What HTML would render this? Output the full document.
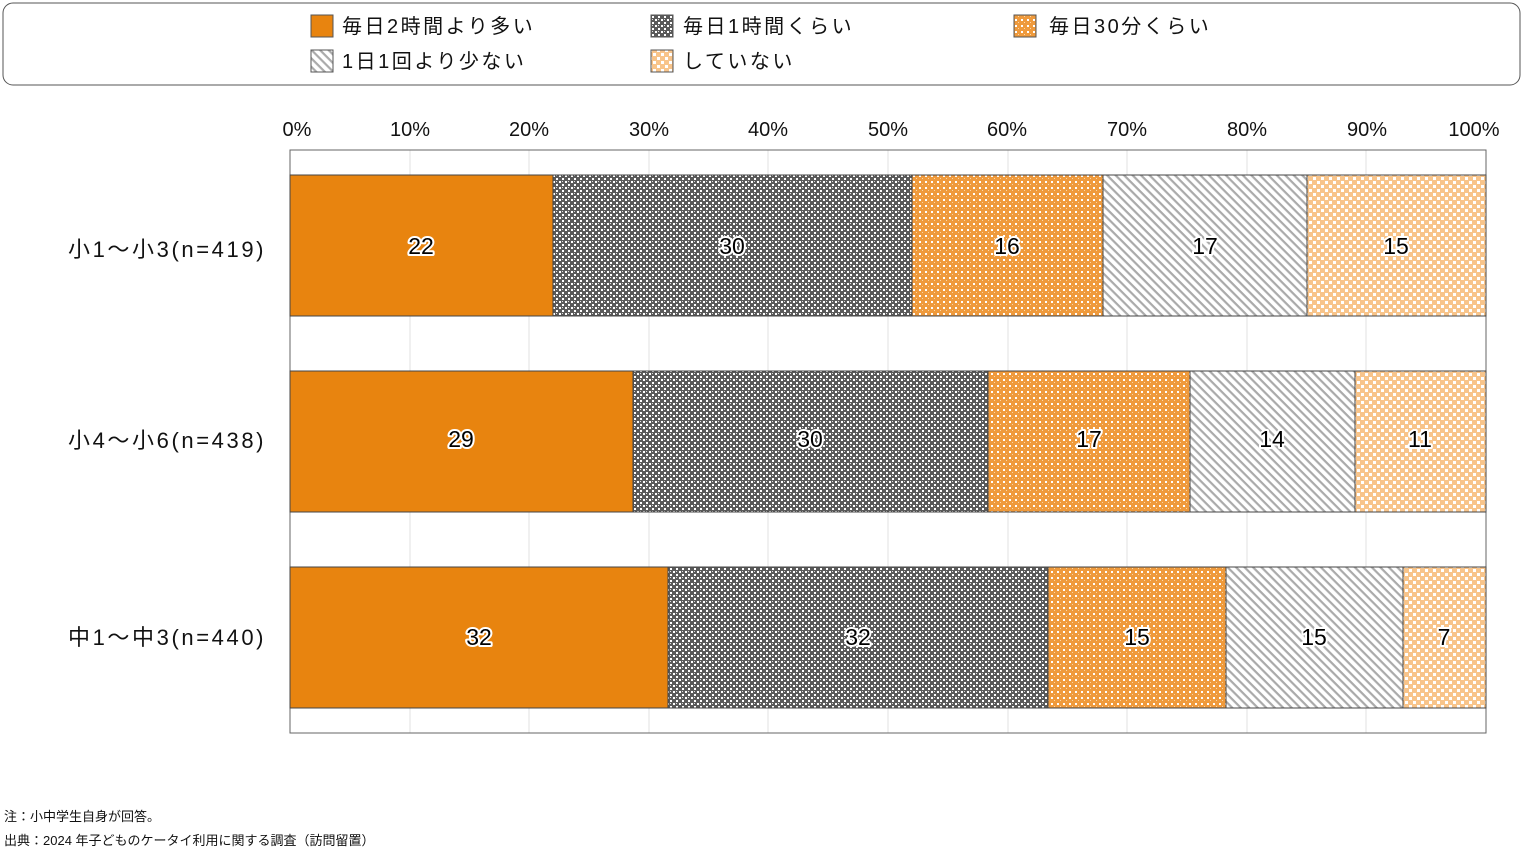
<!DOCTYPE html>
<html><head><meta charset="utf-8"><style>
body{margin:0;width:1524px;height:851px;background:#fff;overflow:hidden;font-family:"Liberation Sans","Noto Sans CJK JP",sans-serif}
</style></head><body>
<svg width="1524" height="851" xmlns="http://www.w3.org/2000/svg" style="font-family:'Liberation Sans','Noto Sans CJK JP',sans-serif">
<defs>
<pattern id="p1" width="6" height="6" patternUnits="userSpaceOnUse">
<rect width="6" height="6" fill="#5a5a5a"/><rect x="1" y="1" width="2" height="2" fill="#fff"/><rect x="4" y="4" width="2" height="2" fill="#fff"/><rect x="4" y="1" width="1" height="1" fill="#ddd"/></pattern>
<pattern id="p2" width="6" height="6" patternUnits="userSpaceOnUse">
<rect width="6" height="6" fill="#ef9a3c"/><rect x="1" y="1" width="2" height="2" fill="#fff"/><rect x="4" y="4" width="1" height="1" fill="#fbd8a8"/></pattern>
<pattern id="p3" width="6" height="6" patternUnits="userSpaceOnUse" patternTransform="rotate(45)">
<rect width="6" height="6" fill="#fff"/><rect width="6" height="2.2" fill="#aaa"/></pattern>
<pattern id="p4" width="8" height="8" patternUnits="userSpaceOnUse">
<rect width="8" height="8" fill="#f8c48a"/><rect x="1" y="1" width="3" height="3" fill="#fff"/><rect x="5" y="5" width="3" height="3" fill="#fff"/></pattern>
</defs>
<rect x="3" y="3" width="1517" height="82" rx="10" fill="#fff" stroke="#555" stroke-width="1"/>
<g font-size="20" fill="#111" letter-spacing="2.5">
<rect x="311" y="15" width="22" height="22" fill="#e8840f" stroke="#555"/><text x="342" y="33">毎日2時間より多い</text>
<rect x="651" y="15" width="22" height="22" fill="url(#p1)" stroke="#555"/><text x="683" y="33">毎日1時間くらい</text>
<rect x="1014" y="15" width="22" height="22" fill="url(#p2)" stroke="#555"/><text x="1049" y="33">毎日30分くらい</text>
<rect x="311" y="50" width="22" height="22" fill="url(#p3)" stroke="#555"/><text x="342" y="68">1日1回より少ない</text>
<rect x="651" y="50" width="22" height="22" fill="url(#p4)" stroke="#555"/><text x="683" y="68">していない</text>
</g>
<g font-size="20" fill="#111" text-anchor="middle">
<text x="297" y="136">0%</text><text x="410" y="136">10%</text><text x="529" y="136">20%</text><text x="649" y="136">30%</text><text x="768" y="136">40%</text><text x="888" y="136">50%</text><text x="1007" y="136">60%</text><text x="1127" y="136">70%</text><text x="1247" y="136">80%</text><text x="1367" y="136">90%</text><text x="1474" y="136">100%</text>
</g>
<g stroke="#e0e0e0">
<line x1="410" y1="150" x2="410" y2="733"/><line x1="529" y1="150" x2="529" y2="733"/><line x1="649" y1="150" x2="649" y2="733"/><line x1="768" y1="150" x2="768" y2="733"/><line x1="888" y1="150" x2="888" y2="733"/><line x1="1008" y1="150" x2="1008" y2="733"/><line x1="1127" y1="150" x2="1127" y2="733"/><line x1="1247" y1="150" x2="1247" y2="733"/><line x1="1366" y1="150" x2="1366" y2="733"/>
</g>
<rect x="290" y="150" width="1196" height="583" fill="none" stroke="#666"/>
<g stroke="#444" stroke-width="1">
<rect x="290" y="175" width="263" height="141" fill="#e8840f"/>
<rect x="553" y="175" width="359" height="141" fill="url(#p1)"/>
<rect x="912" y="175" width="191" height="141" fill="url(#p2)"/>
<rect x="1103" y="175" width="204" height="141" fill="url(#p3)"/>
<rect x="1307" y="175" width="179" height="141" fill="url(#p4)"/>
<rect x="290" y="371" width="343" height="141" fill="#e8840f"/>
<rect x="633" y="371" width="355" height="141" fill="url(#p1)"/>
<rect x="988" y="371" width="202" height="141" fill="url(#p2)"/>
<rect x="1190" y="371" width="165" height="141" fill="url(#p3)"/>
<rect x="1355" y="371" width="131" height="141" fill="url(#p4)"/>
<rect x="290" y="567" width="378" height="141" fill="#e8840f"/>
<rect x="668" y="567" width="380" height="141" fill="url(#p1)"/>
<rect x="1048" y="567" width="178" height="141" fill="url(#p2)"/>
<rect x="1226" y="567" width="177" height="141" fill="url(#p3)"/>
<rect x="1403" y="567" width="83" height="141" fill="url(#p4)"/>
</g>
<g font-size="23" fill="#000" text-anchor="middle" stroke="#fff" stroke-width="4" paint-order="stroke" stroke-linejoin="round">
<text x="421" y="254">22</text><text x="732" y="254">30</text><text x="1007" y="254">16</text><text x="1205" y="254">17</text><text x="1396" y="254">15</text>
<text x="461" y="447">29</text><text x="810" y="447">30</text><text x="1089" y="447">17</text><text x="1272" y="447">14</text><text x="1420" y="447">11</text>
<text x="479" y="645">32</text><text x="858" y="645">32</text><text x="1137" y="645">15</text><text x="1314" y="645">15</text><text x="1444" y="645">7</text>
</g>
<g font-size="22" fill="#111" letter-spacing="2.6">
<text x="68" y="257">小1～小3(n=419)</text>
<text x="68" y="448">小4～小6(n=438)</text>
<text x="68" y="645">中1～中3(n=440)</text>
</g>
<g font-size="13" fill="#111">
<text x="4" y="821">注：小中学生自身が回答。</text>
<text x="4" y="845">出典：2024 年子どものケータイ利用に関する調査（訪問留置）</text>
</g>
</svg>
</body></html>
